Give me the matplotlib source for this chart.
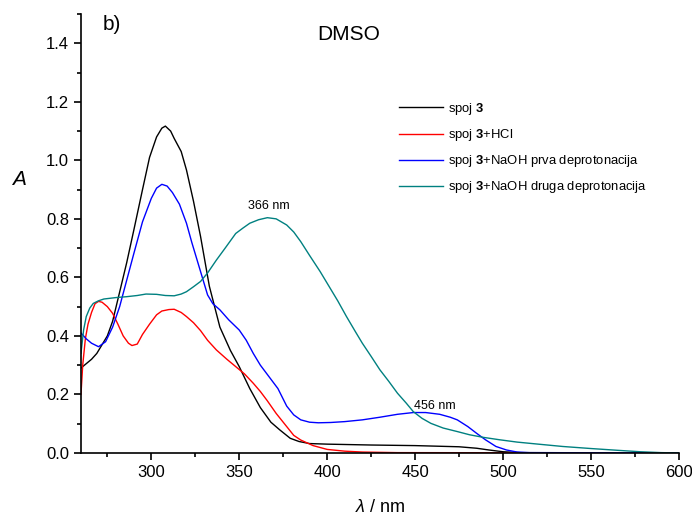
import matplotlib
matplotlib.use("Agg")
import matplotlib.pyplot as plt

plt.rcParams['font.family'] = ['Liberation Sans', 'DejaVu Sans']
plt.rcParams['mathtext.fontset'] = 'custom'
plt.rcParams['mathtext.rm'] = 'Liberation Sans'
plt.rcParams['mathtext.it'] = 'Liberation Sans:italic'
plt.rcParams['mathtext.bf'] = 'Liberation Sans:bold'

# spoj 3
wl_black = [260, 262, 266, 269, 272, 275, 278, 282, 286, 290, 295, 299, 303, 306, 308, 311, 313, 317, 320,
            324, 328, 333, 339, 345, 350, 356, 362, 368, 373, 379, 384, 390, 400, 425, 450, 475, 485, 492,
            500, 510, 600]
a_black = [0.29, 0.30, 0.32, 0.34, 0.37, 0.40, 0.45, 0.55, 0.65, 0.76, 0.90, 1.01, 1.08, 1.11, 1.117, 1.10, 1.075,
           1.03, 0.967, 0.86, 0.74, 0.57, 0.43, 0.35, 0.295, 0.22, 0.155, 0.105, 0.079, 0.05, 0.039, 0.032,
           0.030, 0.027, 0.025, 0.021, 0.016, 0.010, 0.004, 0.001, 0.0]

# spoj 3+HCl
wl_red = [260, 261, 262.5, 264, 266, 268, 270, 272, 275, 278, 281, 284, 287, 289, 292, 295, 299, 303, 306,
          310, 313, 317, 320, 324, 328, 332, 337, 343, 348, 353, 358, 362, 366, 371, 377, 381, 385, 392,
          400, 410, 420, 440, 600]
a_red = [0.20, 0.30, 0.39, 0.44, 0.48, 0.51, 0.518, 0.515, 0.50, 0.477, 0.44, 0.40, 0.375, 0.367, 0.372, 0.405,
         0.44, 0.472, 0.485, 0.49, 0.491, 0.48, 0.466, 0.445, 0.418, 0.385, 0.352, 0.32, 0.295, 0.27, 0.238,
         0.21, 0.178, 0.135, 0.09, 0.06, 0.044, 0.025, 0.012, 0.006, 0.003, 0.001, 0.0]

# spoj 3+NaOH prva deprotonacija
wl_blue = [260, 263, 266, 270, 274, 278, 282, 286, 290, 295, 300, 303, 306, 309, 312, 316, 320, 323, 326,
           329, 332, 335, 339, 344, 350, 354, 358, 362, 367, 372, 377, 381, 385, 390, 395, 402, 410, 420,
           430, 440, 449, 456, 464, 470, 474, 480, 485, 490, 496, 502, 508, 515, 600]
a_blue = [0.41, 0.39, 0.375, 0.363, 0.38, 0.43, 0.50, 0.59, 0.68, 0.79, 0.87, 0.905, 0.918, 0.912, 0.89, 0.85,
          0.785, 0.72, 0.66, 0.60, 0.54, 0.51, 0.489, 0.455, 0.42, 0.385, 0.34, 0.30, 0.26, 0.22, 0.16, 0.13,
          0.113, 0.105, 0.103, 0.104, 0.107, 0.113, 0.122, 0.132, 0.138, 0.138, 0.132, 0.122, 0.113, 0.09,
          0.067, 0.045, 0.022, 0.01, 0.003, 0.001, 0.0]

# spoj 3+NaOH druga deprotonacija
wl_teal = [260, 261.5, 263, 265, 267, 270, 273, 280, 286, 292, 297, 303, 308, 313, 317, 320, 324, 328, 332,
           337, 342, 348, 352, 356, 361, 366, 371, 377, 381, 385, 390, 396, 402, 406, 411, 416, 420, 425,
           430, 435, 440, 445, 449, 454, 459, 466, 474, 481, 489, 498, 508, 520, 534, 550, 565, 578, 590, 600]
a_teal = [0.34, 0.42, 0.466, 0.495, 0.511, 0.52, 0.526, 0.531, 0.534, 0.538, 0.543, 0.542, 0.538, 0.537, 0.543,
          0.551, 0.568, 0.586, 0.615, 0.659, 0.70, 0.75, 0.768, 0.785, 0.797, 0.804, 0.80, 0.779, 0.755, 0.722,
          0.675, 0.62, 0.56, 0.52, 0.466, 0.415, 0.375, 0.33, 0.284, 0.245, 0.204, 0.17, 0.141, 0.118, 0.101,
          0.085, 0.073, 0.062, 0.053, 0.045, 0.037, 0.03, 0.022, 0.015, 0.009, 0.004, 0.001, 0.0]

fig = plt.figure(figsize=(6.92, 5.2), dpi=100)
ax = fig.add_axes([0.117, 0.129, 0.864, 0.844])

ax.plot(wl_black, a_black, color='black', lw=1.0, label='spoj $\\mathbf{3}$')
ax.plot(wl_red, a_red, color='red', lw=1.0, label='spoj $\\mathbf{3}$+HCl')
ax.plot(wl_blue, a_blue, color='blue', lw=1.0, label='spoj $\\mathbf{3}$+NaOH prva deprotonacija')
ax.plot(wl_teal, a_teal, color='#008080', lw=1.0, label='spoj $\\mathbf{3}$+NaOH druga deprotonacija')

ax.set_xlim(260, 600)
ax.set_ylim(0, 1.5)
ax.set_xticks([300, 350, 400, 450, 500, 550, 600])
ax.set_xticks(range(275, 600, 50), minor=True)
ax.set_yticks([0.0, 0.2, 0.4, 0.6, 0.8, 1.0, 1.2, 1.4])
ax.set_yticks([0.1, 0.3, 0.5, 0.7, 0.9, 1.1, 1.3, 1.5], minor=True)
ax.yaxis.set_major_formatter(matplotlib.ticker.FormatStrFormatter('%.1f'))
ax.tick_params(which='major', direction='out', length=5, width=1.2, labelsize=12)
ax.tick_params(which='minor', direction='out', length=3, width=1.2)
ax.spines['top'].set_visible(False)
ax.spines['right'].set_visible(False)
ax.spines['left'].set_linewidth(1.2)
ax.spines['bottom'].set_linewidth(1.2)

ax.set_xlabel('$\\lambda$ / nm', fontsize=13, labelpad=14)
ax.set_ylabel('$A$', fontsize=15, rotation=0, va='center', ha='center')
ax.yaxis.set_label_coords(-0.103, 0.622)

ax.text(0.037, 0.998, 'b)', transform=ax.transAxes, fontsize=15, va='top')
ax.text(0.448, 0.975, 'DMSO', transform=ax.transAxes, fontsize=15, va='top', ha='center')
ax.text(367, 0.845, '366 nm', fontsize=9, ha='center', va='center')
ax.text(461, 0.16, '456 nm', fontsize=9, ha='center', va='center')

ax.legend(loc='upper left', bbox_to_anchor=(0.532, 0.802), frameon=False, fontsize=9.4,
          handlelength=3.4, labelspacing=0.78, handletextpad=0.35, borderaxespad=0, borderpad=0)

fig.savefig('out.png', dpi=100)
